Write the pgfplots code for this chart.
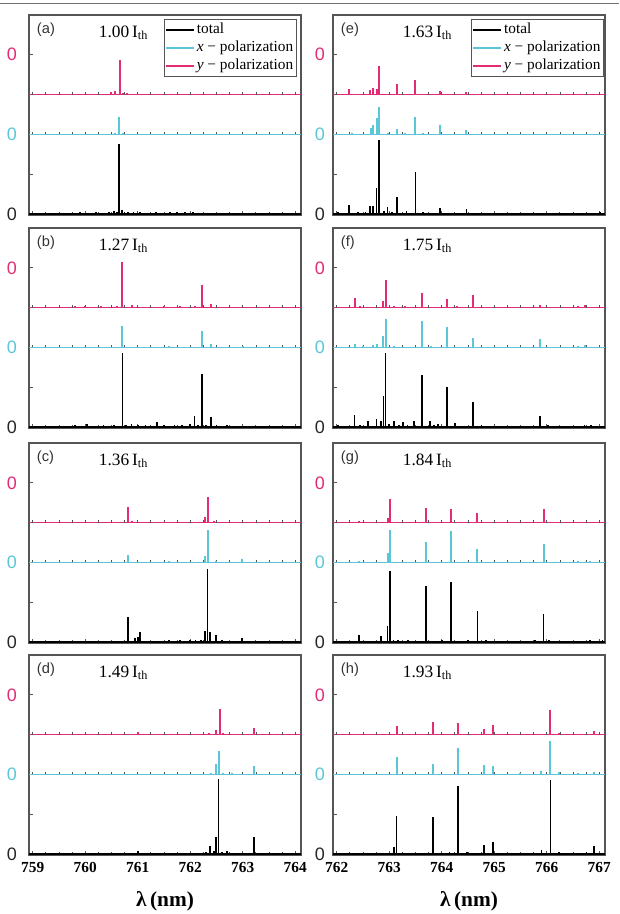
\documentclass[border=0pt]{standalone}
\usepackage{fontspec}
\setmainfont{Liberation Serif}
\newfontfamily\sansf{Liberation Sans}
\usepackage{pgfplots}
\pgfplotsset{compat=1.18}
\definecolor{magc}{RGB}{226,44,118}
\definecolor{cyac}{RGB}{90,198,216}
\definecolor{framec}{RGB}{85,85,85}
\pgfplotsset{
  panel/.style={
    scale only axis, width=204pt, height=150pt,
    ymin=-0.05, ymax=10,
    axis line style={draw=framec, line width=0.8pt},
    ytick={0,2,4,6,8},
    yticklabels={{\color{black!85}0},{},{\color{cyac}0},{},{\color{magc}0}},
    yticklabel style={font=\sansf\fontsize{13.5}{14}\selectfont, anchor=center},
    ytick pos=left, xtick pos=left, tick align=inside,
    major tick length=3pt, minor tick length=2pt,
    every tick/.style={draw=framec, line width=0.6pt},
    minor x tick num=3,
    xticklabels={,,,,,},
    clip=false,
    legend image code/.code={\draw[#1, line width=1.2pt] (0pt,0pt) -- (21pt,0pt);},
  },
  leftp/.style={xmin=758.93, xmax=764.11, xtick={759,760,761,762,763,764}, yticklabel style={xshift=-12.75pt}},
  rightp/.style={xmin=761.93, xmax=767.11, xtick={762,763,764,765,766,767}, yticklabel style={xshift=-9.75pt}},
  bottomp/.style={
    xticklabel style={font=\bfseries\fontsize{11.5}{12}\selectfont, anchor=center, yshift=-9pt},
    xlabel={\fontsize{16}{18}\selectfont\bfseries λ\,(nm)},
    xlabel style={at={(axis description cs:0.5,0)}, anchor=center, yshift=-35pt},
  },
  leg/.style={legend style={at={(#1,0.98)}, anchor=north east, draw=framec, line width=0.6pt,
    font=\fontsize{11.5}{12}\selectfont, inner sep=1pt, cells={anchor=west},
    nodes={inner sep=1.5pt, text height=8pt, text depth=2.5pt}}},
  spk/.style 2 args={draw=none, mark=none, forget plot,
    error bars/.cd, y dir=plus, y explicit, error mark=none,
    error bar style={draw=#1, line width=#2, solid}},
}
\newcommand{\lbl}[2]{%
  \node[anchor=base west, font=\sansf\fontsize{11}{12}\selectfont, text=black!80] at (rel axis cs:0.012,0.91) {#1};
  \node[anchor=base west, font=\fontsize{13}{14}\selectfont] at (rel axis cs:0.24,0.89) {#2\,I\textsubscript{th}};}
\newcommand{\bticksL}{\pgfplotsinvokeforeach{759,759.25,...,764}{%
  \draw[framec, line width=0.5pt] (axis cs:##1,4) -- ++(0pt,2pt);
  \draw[framec, line width=0.5pt] (axis cs:##1,6) -- ++(0pt,2pt);}}
\newcommand{\bticksR}{\pgfplotsinvokeforeach{762,762.25,...,767}{%
  \draw[framec, line width=0.5pt] (axis cs:##1,4) -- ++(0pt,2pt);
  \draw[framec, line width=0.5pt] (axis cs:##1,6) -- ++(0pt,2pt);}}
\begin{document}
\begin{tikzpicture}
\useasboundingbox (0,0) rectangle (464.25pt,-685.5pt);
\draw[black!55, line width=0.8pt] (0pt,-2.5pt) -- (464.25pt,-2.5pt);

% ---------------- (a)
\begin{axis}[panel, leftp, leg=0.985, at={(21.75pt,-11.25pt)}, anchor=north west]
\addplot[black, line width=1pt] coordinates {(758.93,0) (764.11,0)};
\addlegendentry{total}
\addplot[cyac, line width=1.1pt] coordinates {(758.93,4) (764.11,4)};
\addlegendentry{\textit{x} − polarization}
\addplot[magc, line width=1.1pt] coordinates {(758.93,6) (764.11,6)};
\addlegendentry{\textit{y} − polarization}
\bticksL
\addplot[spk={black}{1.3pt}] table[row sep=\\, x=x, y expr=0, y error=h] {x h\\
759.10 0.05\\ 759.40 0.06\\ 759.65 0.05\\ 759.90 0.08\\ 760.05 0.06\\ 760.20 0.10\\ 760.35 0.07\\
760.45 0.10\\ 760.55 0.14\\ 760.60 0.12\\ 760.65 3.50\\ 760.70 0.20\\ 760.75 0.12\\ 760.82 0.10\\
760.92 0.08\\ 761.05 0.10\\ 761.20 0.06\\ 761.35 0.08\\ 761.50 0.07\\ 761.62 0.10\\ 761.75 0.09\\
761.90 0.08\\ 762.05 0.12\\ 762.20 0.05\\ 762.50 0.04\\ 763.00 0.03\\ 763.60 0.03\\};
\addplot[spk={cyac}{1.5pt}] table[row sep=\\, x=x, y expr=4, y error=h] {x h\\
760.57 0.08\\ 760.65 0.88\\ 760.72 0.06\\ 761.50 0.03\\ 762.05 0.03\\};
\addplot[spk={magc}{1.5pt}] table[row sep=\\, x=x, y expr=6, y error=h] {x h\\
760.50 0.12\\ 760.56 0.20\\ 760.66 1.75\\ 760.72 0.08\\ 760.80 0.06\\ 761.00 0.05\\ 761.30 0.04\\ 762.05 0.03\\};
\lbl{(a)}{1.00}
\end{axis}

% ---------------- (b)
\begin{axis}[panel, leftp, at={(21.75pt,-171pt)}, anchor=north west]
\addplot[black, line width=1pt] coordinates {(758.93,0) (764.11,0)};
\addplot[cyac, line width=1.1pt] coordinates {(758.93,4) (764.11,4)};
\addplot[magc, line width=1.1pt] coordinates {(758.93,6) (764.11,6)};
\bticksL
\addplot[spk={black}{1.3pt}] table[row sep=\\, x=x, y expr=0, y error=h] {x h\\
759.20 0.05\\ 759.50 0.06\\ 759.80 0.08\\ 760.03 0.15\\ 760.15 0.07\\ 760.35 0.08\\ 760.55 0.10\\
760.71 3.70\\ 760.78 0.12\\ 760.88 0.15\\ 761.00 0.10\\ 761.15 0.08\\ 761.37 0.25\\ 761.50 0.10\\
761.70 0.08\\ 761.85 0.10\\ 762.00 0.15\\ 762.08 0.57\\ 762.15 0.12\\ 762.23 2.68\\ 762.30 0.10\\
762.39 0.48\\ 762.50 0.08\\ 762.70 0.10\\ 762.90 0.06\\ 763.10 0.05\\ 763.50 0.04\\ 764.00 0.05\\};
\addplot[spk={cyac}{1.5pt}] table[row sep=\\, x=x, y expr=4, y error=h] {x h\\
759.50 0.03\\ 760.71 1.10\\ 761.60 0.08\\ 762.23 0.83\\ 762.39 0.15\\ 763.00 0.05\\};
\addplot[spk={magc}{1.5pt}] table[row sep=\\, x=x, y expr=6, y error=h] {x h\\
759.80 0.06\\ 760.00 0.08\\ 760.30 0.06\\ 760.60 0.08\\ 760.71 2.30\\ 760.90 0.15\\ 761.20 0.05\\
761.50 0.08\\ 761.80 0.06\\ 762.10 0.06\\ 762.23 1.13\\ 762.39 0.20\\};
\lbl{(b)}{1.27}
\end{axis}

% ---------------- (c)
\begin{axis}[panel, leftp, at={(21.75pt,-332.25pt)}, anchor=north west]
\addplot[black, line width=1pt] coordinates {(758.93,0) (764.11,0)};
\addplot[cyac, line width=1.1pt] coordinates {(758.93,4) (764.11,4)};
\addplot[magc, line width=1.1pt] coordinates {(758.93,6) (764.11,6)};
\bticksL
\addplot[spk={black}{1.3pt}] table[row sep=\\, x=x, y expr=0, y error=h] {x h\\
759.30 0.04\\ 759.80 0.05\\ 760.30 0.05\\ 760.60 0.06\\ 760.81 1.24\\ 760.95 0.20\\ 761.00 0.25\\
761.04 0.48\\ 761.20 0.06\\ 761.60 0.08\\ 761.80 0.10\\ 762.00 0.08\\ 762.10 0.10\\ 762.20 0.12\\
762.28 0.55\\ 762.33 3.68\\ 762.38 0.50\\ 762.49 0.35\\ 762.60 0.08\\ 762.80 0.06\\ 762.99 0.20\\
763.20 0.06\\ 763.50 0.04\\ 763.90 0.03\\};
\addplot[spk={cyac}{1.5pt}] table[row sep=\\, x=x, y expr=4, y error=h] {x h\\
760.81 0.35\\ 761.20 0.04\\ 761.60 0.08\\ 762.28 0.30\\ 762.33 1.65\\ 762.49 0.08\\ 762.99 0.15\\};
\addplot[spk={magc}{1.5pt}] table[row sep=\\, x=x, y expr=6, y error=h] {x h\\
760.81 0.77\\ 760.90 0.10\\ 761.50 0.03\\ 762.28 0.30\\ 762.33 1.27\\ 762.45 0.08\\};
\lbl{(c)}{1.36}
\end{axis}

% ---------------- (d)
\begin{axis}[panel, leftp, bottomp, xticklabels={759,760,761,762,763,764}, at={(21.75pt,-491.25pt)}, anchor=north west]
\addplot[black, line width=1pt] coordinates {(758.93,0) (764.11,0)};
\addplot[cyac, line width=1.1pt] coordinates {(758.93,4) (764.11,4)};
\addplot[magc, line width=1.1pt] coordinates {(758.93,6) (764.11,6)};
\bticksL
\addplot[spk={black}{1.3pt}] table[row sep=\\, x=x, y expr=0, y error=h] {x h\\
759.50 0.03\\ 760.20 0.03\\ 761.01 0.15\\ 761.50 0.04\\ 762.10 0.05\\ 762.30 0.10\\ 762.38 0.42\\
762.45 0.15\\ 762.49 0.83\\ 762.54 3.75\\ 762.60 0.10\\ 762.70 0.15\\ 762.80 0.06\\ 763.00 0.05\\
763.22 0.83\\ 763.40 0.04\\ 763.80 0.03\\};
\addplot[spk={cyac}{1.5pt}] table[row sep=\\, x=x, y expr=4, y error=h] {x h\\
762.40 0.05\\ 762.50 0.50\\ 762.54 1.20\\ 762.62 0.06\\ 762.80 0.05\\ 763.22 0.40\\ 763.40 0.03\\};
\addplot[spk={magc}{1.5pt}] table[row sep=\\, x=x, y expr=6, y error=h] {x h\\
761.01 0.15\\ 762.35 0.08\\ 762.50 0.25\\ 762.56 1.28\\ 762.62 0.08\\ 763.22 0.33\\ 763.35 0.04\\};
\lbl{(d)}{1.49}
\end{axis}

% ---------------- (e)
\begin{axis}[panel, rightp, leg=0.997, at={(249.75pt,-11.25pt)}, anchor=north west]
\addplot[black, line width=1pt] coordinates {(761.93,0) (767.11,0)};
\addlegendentry{total}
\addplot[cyac, line width=1.1pt] coordinates {(761.93,4) (767.11,4)};
\addlegendentry{\textit{x} − polarization}
\addplot[magc, line width=1.1pt] coordinates {(761.93,6) (767.11,6)};
\addlegendentry{\textit{y} − polarization}
\bticksR
\addplot[spk={black}{1.3pt}] table[row sep=\\, x=x, y expr=0, y error=h] {x h\\
762.02 0.10\\ 762.23 0.47\\ 762.40 0.08\\ 762.55 0.12\\ 762.64 0.40\\ 762.69 0.40\\ 762.76 1.30\\
762.81 3.72\\ 762.90 0.15\\ 762.97 0.35\\ 763.05 0.10\\ 763.15 0.85\\ 763.25 0.06\\ 763.33 0.15\\
763.50 2.10\\ 763.64 0.12\\ 763.80 0.06\\ 763.97 0.30\\ 764.10 0.05\\ 764.30 0.05\\ 764.47 0.25\\
764.70 0.04\\ 765.00 0.04\\ 765.50 0.03\\ 766.00 0.03\\ 766.50 0.03\\ 767.02 0.10\\};
\addplot[spk={cyac}{1.5pt}] table[row sep=\\, x=x, y expr=4, y error=h] {x h\\
762.30 0.05\\ 762.65 0.30\\ 762.70 0.45\\ 762.76 0.80\\ 762.81 1.39\\ 762.97 0.06\\ 763.15 0.25\\
763.30 0.08\\ 763.50 0.85\\ 763.64 0.06\\ 763.97 0.47\\ 764.47 0.20\\};
\addplot[spk={magc}{1.5pt}] table[row sep=\\, x=x, y expr=6, y error=h] {x h\\
762.23 0.30\\ 762.40 0.05\\ 762.64 0.25\\ 762.69 0.33\\ 762.76 0.30\\ 762.81 1.42\\ 763.15 0.55\\
763.50 0.72\\ 763.97 0.20\\ 764.47 0.15\\};
\lbl{(e)}{1.63}
\end{axis}

% ---------------- (f)
\begin{axis}[panel, rightp, at={(249.75pt,-171pt)}, anchor=north west]
\addplot[black, line width=1pt] coordinates {(761.93,0) (767.11,0)};
\addplot[cyac, line width=1.1pt] coordinates {(761.93,4) (767.11,4)};
\addplot[magc, line width=1.1pt] coordinates {(761.93,6) (767.11,6)};
\bticksR
\addplot[spk={black}{1.3pt}] table[row sep=\\, x=x, y expr=0, y error=h] {x h\\
762.03 0.08\\ 762.20 0.06\\ 762.34 0.60\\ 762.45 0.08\\ 762.60 0.30\\ 762.76 0.40\\ 762.85 0.30\\
762.89 1.57\\ 762.93 3.70\\ 763.00 0.15\\ 763.09 0.30\\ 763.18 0.10\\ 763.26 0.25\\ 763.35 0.08\\
763.47 0.30\\ 763.62 2.60\\ 763.78 0.30\\ 763.85 0.10\\ 763.93 0.15\\ 764.10 2.02\\ 764.26 0.20\\
764.40 0.05\\ 764.60 1.28\\ 764.76 0.12\\ 764.90 0.06\\ 765.10 0.05\\ 765.30 0.05\\ 765.50 0.06\\
765.70 0.05\\ 765.87 0.57\\ 766.03 0.12\\ 766.20 0.05\\ 766.40 0.05\\ 766.60 0.06\\ 766.72 0.10\\
766.85 0.08\\ 767.00 0.06\\};
\addplot[spk={cyac}{1.5pt}] table[row sep=\\, x=x, y expr=4, y error=h] {x h\\
762.34 0.15\\ 762.50 0.05\\ 762.70 0.10\\ 762.76 0.15\\ 762.89 0.55\\ 762.93 1.45\\ 763.09 0.08\\
763.62 1.32\\ 763.80 0.06\\ 764.10 1.02\\ 764.60 0.48\\ 765.87 0.40\\ 766.60 0.08\\ 766.72 0.12\\};
\addplot[spk={magc}{1.5pt}] table[row sep=\\, x=x, y expr=6, y error=h] {x h\\
762.34 0.48\\ 762.45 0.10\\ 762.89 0.35\\ 762.93 1.40\\ 763.10 0.10\\ 763.30 0.06\\ 763.62 0.73\\
764.10 0.45\\ 764.30 0.06\\ 764.60 0.65\\ 765.87 0.15\\ 766.60 0.08\\ 766.72 0.12\\};
\lbl{(f)}{1.75}
\end{axis}

% ---------------- (g)
\begin{axis}[panel, rightp, at={(249.75pt,-332.25pt)}, anchor=north west]
\addplot[black, line width=1pt] coordinates {(761.93,0) (767.11,0)};
\addplot[cyac, line width=1.1pt] coordinates {(761.93,4) (767.11,4)};
\addplot[magc, line width=1.1pt] coordinates {(761.93,6) (767.11,6)};
\bticksR
\addplot[spk={black}{1.3pt}] table[row sep=\\, x=x, y expr=0, y error=h] {x h\\
762.05 0.06\\ 762.25 0.05\\ 762.42 0.35\\ 762.60 0.06\\ 762.84 0.30\\ 762.97 0.80\\ 763.01 3.55\\
763.08 0.10\\ 763.17 0.10\\ 763.36 0.12\\ 763.50 0.05\\ 763.70 2.80\\ 763.85 0.06\\ 764.00 0.08\\
764.18 3.02\\ 764.30 0.06\\ 764.50 0.08\\ 764.68 1.57\\ 764.84 0.12\\ 765.00 0.05\\ 765.20 0.05\\
765.40 0.06\\ 765.60 0.05\\ 765.77 0.12\\ 765.94 1.43\\ 766.05 0.10\\ 766.30 0.05\\ 766.50 0.06\\
766.82 0.10\\ 767.06 0.12\\};
\addplot[spk={cyac}{1.5pt}] table[row sep=\\, x=x, y expr=4, y error=h] {x h\\
762.42 0.05\\ 762.97 0.45\\ 763.01 1.65\\ 763.70 1.05\\ 764.18 1.60\\ 764.68 0.65\\ 765.94 0.90\\
766.60 0.08\\ 766.82 0.05\\};
\addplot[spk={magc}{1.5pt}] table[row sep=\\, x=x, y expr=6, y error=h] {x h\\
762.42 0.10\\ 762.97 0.25\\ 763.01 1.18\\ 763.70 0.72\\ 764.18 0.68\\ 764.68 0.48\\ 765.94 0.68\\
766.80 0.05\\};
\lbl{(g)}{1.84}
\end{axis}

% ---------------- (h)
\begin{axis}[panel, rightp, bottomp, xticklabels={762,763,764,765,766,767}, at={(249.75pt,-491.25pt)}, anchor=north west]
\addplot[black, line width=1pt] coordinates {(761.93,0) (767.11,0)};
\addplot[cyac, line width=1.1pt] coordinates {(761.93,4) (767.11,4)};
\addplot[magc, line width=1.1pt] coordinates {(761.93,6) (767.11,6)};
\bticksR
\addplot[spk={black}{1.3pt}] table[row sep=\\, x=x, y expr=0, y error=h] {x h\\
762.10 0.04\\ 762.40 0.05\\ 762.70 0.05\\ 763.09 0.35\\ 763.14 1.92\\ 763.30 0.06\\ 763.60 0.05\\
763.83 1.88\\ 764.00 0.06\\ 764.15 0.08\\ 764.31 3.42\\ 764.48 0.12\\ 764.65 0.05\\ 764.80 0.45\\
764.97 0.58\\ 765.20 0.05\\ 765.50 0.04\\ 765.75 0.05\\ 765.90 0.20\\ 766.07 3.72\\ 766.23 0.10\\
766.45 0.05\\ 766.76 0.10\\ 766.90 0.38\\ 767.05 0.05\\};
\addplot[spk={cyac}{1.5pt}] table[row sep=\\, x=x, y expr=4, y error=h] {x h\\
763.14 0.88\\ 763.83 0.53\\ 764.31 1.33\\ 764.80 0.45\\ 764.97 0.40\\ 765.50 0.05\\ 765.90 0.15\\
766.07 1.67\\ 766.23 0.10\\ 766.60 0.05\\ 766.90 0.12\\};
\addplot[spk={magc}{1.5pt}] table[row sep=\\, x=x, y expr=6, y error=h] {x h\\
763.14 0.45\\ 763.83 0.62\\ 764.31 0.60\\ 764.80 0.30\\ 764.97 0.50\\ 766.07 1.22\\ 766.23 0.08\\
766.90 0.20\\};
\lbl{(h)}{1.93}
\end{axis}
\end{tikzpicture}
\end{document}
